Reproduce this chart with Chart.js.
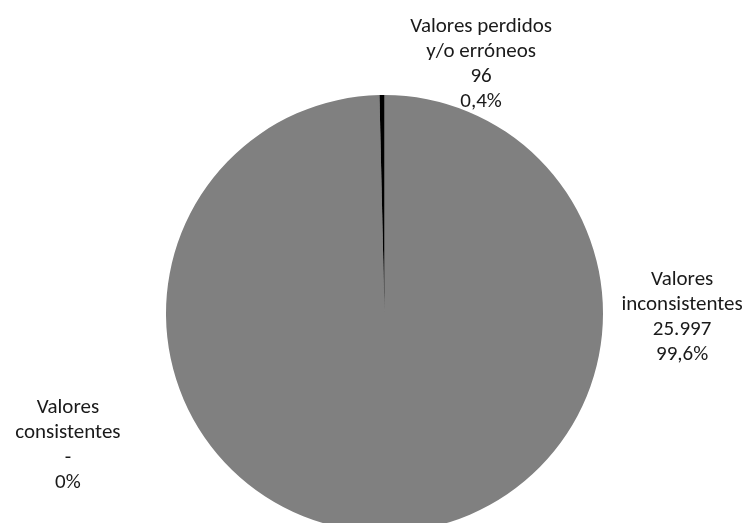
<!DOCTYPE html>
<html lang="es">

<head>
    <meta charset="UTF-8">
    <title>Valores consistentes, inconsistentes y perdidos</title>
    <script src="https://cdn.jsdelivr.net/npm/chart.js"></script>
    <style>
        body {
            margin: 0;
            padding: 0;
            overflow: hidden;
            background: #fff;
        }

        .container {
            width: 747px;
            height: 532px;
            position: relative;
        }
    </style>
</head>

<body>
    <div class="container">
        <canvas id="pieChart"></canvas>
    </div>

    <script>
        // Data
        const categories = ['Valores consistentes', 'Valores inconsistentes', 'Valores perdidos y/o erróneos'];
        const labelLines = [['Valores', 'consistentes'], ['Valores', 'inconsistentes'], ['Valores perdidos', 'y/o erróneos']];
        const values = [0, 25997, 96];
        const colors = ['#a5a5a5', '#808080', '#000000'];

        // Label anchors, in units of the pie radius from its centre
        const labelOffsets = [[-1.449, 0.602], [1.362, 0.018], [0.442, -1.14]];

        const total = values.reduce((a, b) => a + b, 0);

        function formatNumber(v) {
            if (v === 0) return '-';
            return String(v).replace(/\B(?=(\d{3})+(?!\d))/g, '.');
        }

        function formatPercent(v) {
            if (v === 0) return '0%';
            return (v / total * 100).toFixed(1).replace('.', ',') + '%';
        }

        const labelPlugin = {
            id: 'sliceLabels',
            afterDatasetsDraw(chart) {
                const ctx = chart.ctx;
                const arcs = chart.getDatasetMeta(0).data;
                const cx = arcs[0].x;
                const cy = arcs[0].y;
                const r = arcs[0].outerRadius;
                const lineHeight = 25;
                ctx.save();
                ctx.font = '21px Carlito, Lato, sans-serif';
                ctx.fillStyle = '#1a1a1a';
                ctx.textAlign = 'center';
                ctx.textBaseline = 'middle';
                values.forEach((v, i) => {
                    const lines = labelLines[i].concat([formatNumber(v), formatPercent(v)]);
                    const x = cx + labelOffsets[i][0] * r;
                    const y0 = cy + labelOffsets[i][1] * r - (lines.length - 1) * lineHeight / 2;
                    lines.forEach((t, j) => ctx.fillText(t, x, y0 + j * lineHeight));
                });
                ctx.restore();
            }
        };

        const ctx = document.getElementById('pieChart').getContext('2d');
        const pieChart = new Chart(ctx, {
            type: 'pie',
            data: {
                labels: categories,
                datasets: [{
                    data: values,
                    backgroundColor: colors,
                    borderWidth: 0,
                }],
            },
            options: {
                responsive: true,
                maintainAspectRatio: false,
                animation: false,
                layout: {
                    padding: { top: 95, left: 22, right: 0, bottom: 0 },
                },
                plugins: {
                    legend: { display: false },
                    tooltip: { enabled: false },
                },
            },
            plugins: [labelPlugin],
        });
    </script>
</body>

</html>
